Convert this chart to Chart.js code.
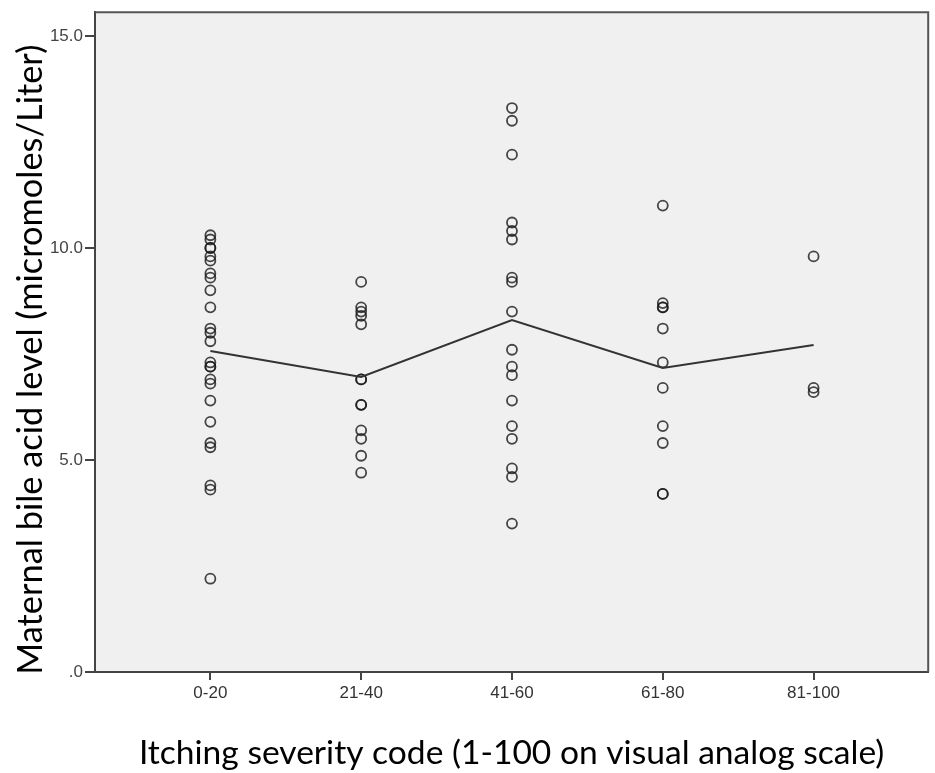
<!DOCTYPE html>
<html>
<head>
<meta charset="utf-8">
<script src="https://cdn.jsdelivr.net/npm/chart.js@4.4.0/dist/chart.umd.min.js"></script>
<style>
  body { margin: 0; background: #fff; }
  #wrap { width: 935px; height: 773px; }
</style>
</head>
<body>
<div id="wrap"><canvas id="scatter" width="935" height="773"></canvas></div>
<script>
// Categories on the x axis
const categories = ['0-20', '21-40', '41-60', '61-80', '81-100'];

// Bile acid values per itching group
const group0to20 = [10.3, 10.2, 10.0, 10.0, 9.8, 9.7, 9.4, 9.3, 9.0, 8.6, 8.1, 8.0, 7.8,
                    7.3, 7.2, 7.2, 6.9, 6.8, 6.4, 5.9, 5.4, 5.3, 4.4, 4.3, 2.2];
const group21to40 = [9.2, 8.6, 8.5, 8.4, 8.2, 6.9, 6.9, 6.3, 6.3, 5.7, 5.5, 5.1, 4.7];
const group41to60 = [13.3, 13.0, 12.2, 10.6, 10.4, 10.2, 9.3, 9.2, 8.5, 7.6, 7.2, 7.0,
                     6.4, 5.8, 5.5, 4.8, 4.6, 3.5];
const group61to80 = [11.0, 8.7, 8.6, 8.6, 8.1, 7.3, 6.7, 5.8, 5.4, 4.2, 4.2];
const group81to100 = [9.8, 6.7, 6.6];

// Group means (the connecting line)
const meanValues = [7.57, 6.96, 8.30, 7.17, 7.71];

// Y axis tick values
const yTicks = [0, 5, 10, 15];

const groups = [group0to20, group21to40, group41to60, group61to80, group81to100];
const scatterPoints = [];
groups.forEach((vals, i) => vals.forEach(v => scatterPoints.push({x: i, y: v})));
const meanPoints = meanValues.map((v, i) => ({x: i, y: v}));

// plot background + top/right frame
const frame = {
    id: 'frame',
    beforeDraw(chart) {
        const {ctx, chartArea: a} = chart;
        ctx.save();
        ctx.fillStyle = '#f0f0f0';
        ctx.fillRect(a.left, a.top, a.right - a.left, a.bottom - a.top);
        ctx.restore();
    },
    afterDraw(chart) {
        const {ctx, chartArea: a} = chart;
        ctx.save();
        ctx.strokeStyle = '#555';
        ctx.lineWidth = 2;
        ctx.beginPath();
        ctx.moveTo(a.left, a.top);
        ctx.lineTo(a.right, a.top);
        ctx.lineTo(a.right, a.bottom);
        ctx.stroke();
        ctx.restore();
    }
};

new Chart(document.getElementById('scatter').getContext('2d'), {
    type: 'scatter',
    data: {
        datasets: [{
            data: meanPoints,
            showLine: true,
            borderColor: '#333',
            borderWidth: 2,
            pointRadius: 0,
            fill: false
        }, {
            data: scatterPoints,
            pointStyle: 'circle',
            pointRadius: 5,
            pointBorderWidth: 1.8,
            pointBorderColor: 'rgba(25,25,25,0.8)',
            pointBackgroundColor: 'rgba(0,0,0,0)'
        }]
    },
    options: {
        responsive: false,
        animation: false,
        layout: { padding: { top: 7, right: 2, left: 0, bottom: 0 } },
        plugins: {
            legend: { display: false },
            tooltip: { enabled: false }
        },
        scales: {
            x: {
                type: 'linear',
                min: -0.765,
                max: 4.76,
                afterBuildTicks: s => { s.ticks = categories.map((c, i) => ({value: i})); },
                afterFit: s => { s.height = 101; },
                ticks: {
                    callback: v => categories[v],
                    color: '#333',
                    font: { family: 'Liberation Sans, Arial', size: 17 },
                    padding: 3,
                    maxRotation: 0
                },
                grid: { drawOnChartArea: false, tickLength: 8, color: '#444', lineWidth: 2 },
                border: { display: true, color: '#444', width: 2 },
                title: {
                    display: true,
                    text: 'Itching severity code (1-100 on visual analog scale)',
                    color: '#000',
                    font: { family: 'Lato', size: 33.6 },
                    padding: { top: 0, bottom: 0 }
                }
            },
            y: {
                min: 0,
                max: 15.56,
                afterBuildTicks: s => { s.ticks = yTicks.map(v => ({value: v})); },
                afterFit: s => { s.width = 95; },
                ticks: {
                    callback: v => v === 0 ? '.0' : v.toFixed(1),
                    color: '#444',
                    font: { family: 'Liberation Sans, Arial', size: 17 },
                    padding: 2
                },
                grid: { drawOnChartArea: false, tickLength: 10, color: '#444', lineWidth: 2 },
                border: { display: true, color: '#444', width: 2 },
                title: {
                    display: true,
                    // trailing spaces nudge the centred title down a little, as in the original
                    text: 'Maternal bile acid level (micromoles/Liter)    ',
                    color: '#000',
                    font: { family: 'Lato', size: 34.4 },
                    padding: { top: 10, bottom: 0 }
                }
            }
        }
    },
    plugins: [frame]
});
</script>
</body>
</html>
